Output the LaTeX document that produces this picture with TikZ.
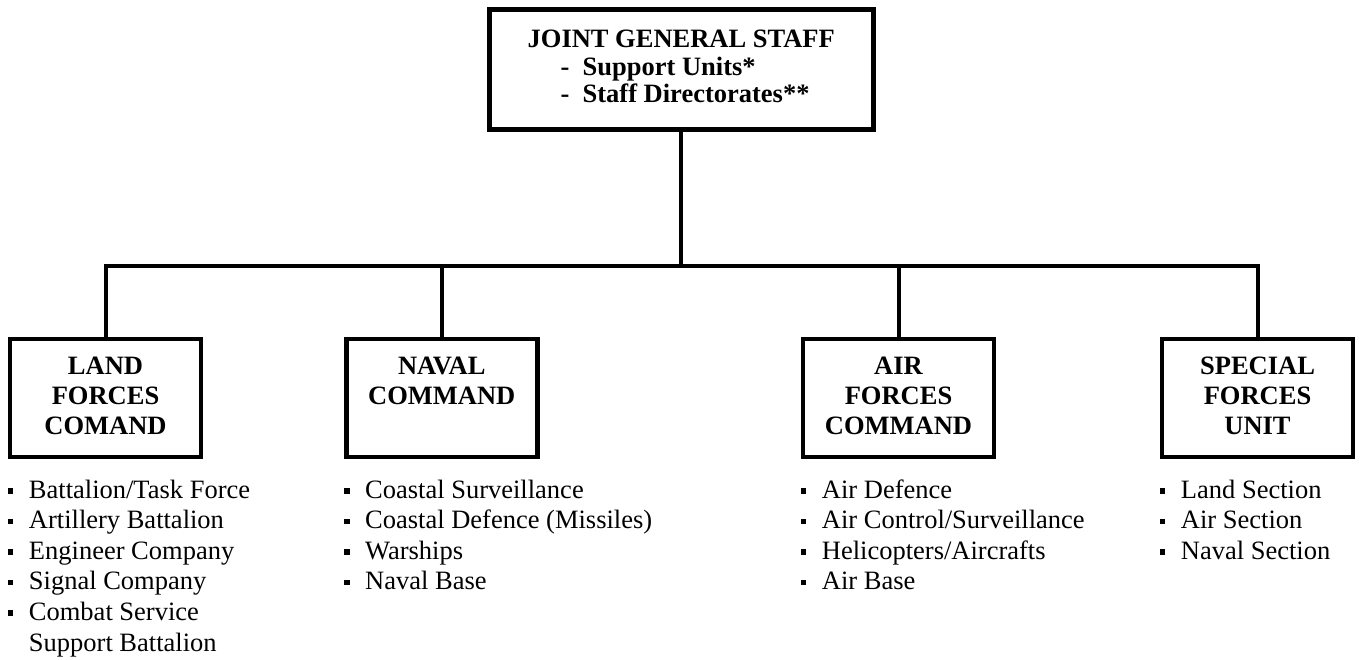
\documentclass[tikz,border=0pt]{standalone}
\usepackage{fontspec}
\setmainfont{Liberation Serif}
\newcommand{\sqbul}{\rule[4.5pt]{5.5pt}{5.5pt}\hspace{15.5pt}}
\newcommand{\subdash}{\hspace{33pt}\makebox[22pt][l]{-}}

\begin{document}
\begin{tikzpicture}[x=1pt, y=-1pt,
    staffbox/.style={draw, line width=5pt, inner sep=0pt, minimum width=384.5pt, minimum height=120.5pt,
                     font=\fontsize{26.5}{27.5}\selectfont\bfseries},
    unitbox/.style={draw, line width=4.5pt, inner sep=0pt, minimum width=191pt, minimum height=118pt,
                    font=\fontsize{26.5}{30}\selectfont\bfseries},
    link/.style={line width=4pt},
    unitlist/.style={anchor=base west, inner sep=0pt, font=\fontsize{26.5}{30.6}\selectfont}]
  \useasboundingbox (0,0) rectangle (1362,660);
  % top of the chart
  \node[staffbox] (jgs) at (681.25,69.75) {\begin{tabular}[t]{@{}l@{}}
        JOINT GENERAL STAFF\\
        \subdash Support Units*\\
        \subdash Staff Directorates**
      \end{tabular}};
  % the four commands
  \node[unitbox] (land)    at (105.5,398)  {\begin{tabular}[t]{@{}c@{}}LAND\\FORCES\\COMAND\end{tabular}};
  \node[unitbox] (naval)   at (441.75,398) {\begin{tabular}[t]{@{}c@{}}NAVAL\\COMMAND\\\mbox{}\end{tabular}};
  \node[unitbox] (air)     at (898.5,398)  {\begin{tabular}[t]{@{}c@{}}AIR\\FORCES\\COMMAND\end{tabular}};
  \node[unitbox] (special) at (1257.5,398) {\begin{tabular}[t]{@{}c@{}}SPECIAL\\FORCES\\UNIT\end{tabular}};
  % connectors
  \coordinate (bus) at (681.25,266);
  \draw[link] (jgs.south) -- (jgs.south |- bus);
  \draw[link] (land.north) |- (bus -| special.north) -- (special.north);
  \draw[link] (naval.north) -- (naval.north |- bus);
  \draw[link] (air.north) -- (air.north |- bus);
  % sub-units
  \coordinate (listrow) at (0,498);
  \node[unitlist] (landlist) at (land.south west |- listrow) {\begin{tabular}[t]{@{}l@{}}
        \sqbul Battalion/Task Force\\
        \sqbul Artillery Battalion\\
        \sqbul Engineer Company\\
        \sqbul Signal Company\\
        \sqbul Combat Service\\
        \hspace{21pt}Support Battalion
      \end{tabular}};
  \node[unitlist] (navallist) at (naval.south west |- listrow) {\begin{tabular}[t]{@{}l@{}}
        \sqbul Coastal Surveillance\\
        \sqbul Coastal Defence (Missiles)\\
        \sqbul Warships\\
        \sqbul Naval Base
      \end{tabular}};
  \node[unitlist] (airlist) at (air.south west |- listrow) {\begin{tabular}[t]{@{}l@{}}
        \sqbul Air Defence\\
        \sqbul Air Control/Surveillance\\
        \sqbul Helicopters/Aircrafts\\
        \sqbul Air Base
      \end{tabular}};
  \node[unitlist] (speciallist) at (special.south west |- listrow) {\begin{tabular}[t]{@{}l@{}}
        \sqbul Land Section\\
        \sqbul Air Section\\
        \sqbul Naval Section
      \end{tabular}};
\end{tikzpicture}
\end{document}
